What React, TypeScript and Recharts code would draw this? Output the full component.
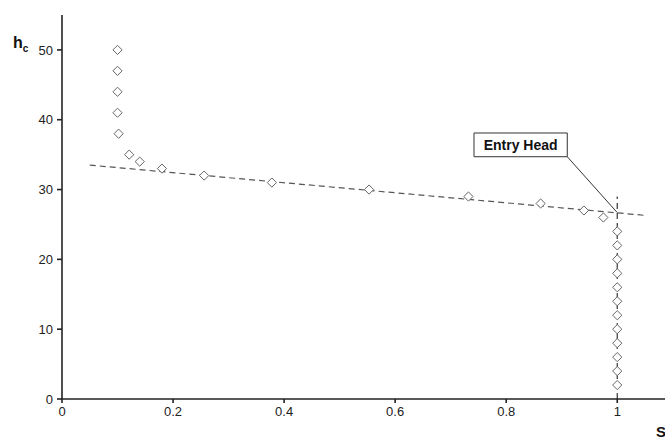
import React from "react";
import {
  ScatterChart,
  Scatter,
  XAxis,
  YAxis,
  ReferenceLine,
  ReferenceArea,
} from "recharts";

// measured capillary head vs saturation
const saturation = [
  0.1, 0.1, 0.1, 0.1, 0.102, 0.121, 0.14, 0.18, 0.256, 0.378, 0.553, 0.732,
  0.862, 0.94, 0.975, 1, 1, 1, 1, 1, 1, 1, 1, 1, 1, 1, 1,
];
const head = [
  50, 47, 44, 41, 38, 35, 34, 33, 32, 31, 30, 29, 28, 27, 26, 24, 22, 20, 18,
  16, 14, 12, 10, 8, 6, 4, 2,
];

// fitted line through the flat part, and the S = 1 line
const trendS = [0.05, 1.05];
const trendH = [33.5, 26.3];
const verticalS = [1, 1];
const verticalH = [0, 29];

// entry head callout
const entryS = 1;
const entryH = 26.7;
const boxS = [0.742, 0.91];
const boxH = [34.7, 38.1];

const xTicks = [0, 0.2, 0.4, 0.6, 0.8, 1];
const yTicks = [0, 10, 20, 30, 40, 50];

const points = saturation.map((s, i) => ({ s, h: head[i] }));

const Diamond = (props: any) => {
  const { cx, cy } = props;
  const r = 4.6;
  return (
    <polygon
      points={`${cx},${cy - r} ${cx + r},${cy} ${cx},${cy + r} ${cx - r},${cy}`}
      fill="#fff"
      stroke="#666"
      strokeWidth={1}
    />
  );
};

const font = "'Liberation Sans', Arial, sans-serif";

export default function App() {
  return (
    <div
      style={{
        position: "absolute",
        left: 0,
        top: 0,
        width: 665,
        height: 440,
        overflow: "hidden",
        background: "#fff",
        fontFamily: font,
      }}
    >
      <ScatterChart
        width={665}
        height={440}
        margin={{ top: 15, right: 0, bottom: 11, left: 0 }}
      >
        <XAxis
          type="number"
          dataKey="s"
          domain={[0, 1.086]}
          ticks={xTicks}
          allowDataOverflow
          height={30}
          tickSize={4}
          tickMargin={4}
          stroke="#222"
          strokeWidth={1.6}
          tick={{ fill: "#222", fontSize: 13, fontFamily: font }}
        />
        <YAxis
          type="number"
          dataKey="h"
          domain={[0, 55]}
          ticks={yTicks}
          width={62}
          tickSize={5}
          tickMargin={4}
          stroke="#222"
          strokeWidth={1.6}
          tick={{ fill: "#222", fontSize: 13, fontFamily: font }}
        />
        <ReferenceLine
          segment={[
            { x: trendS[0], y: trendH[0] },
            { x: trendS[1], y: trendH[1] },
          ]}
          stroke="#555"
          strokeWidth={1.2}
          strokeDasharray="6 4"
        />
        <ReferenceLine
          segment={[
            { x: verticalS[0], y: verticalH[0] },
            { x: verticalS[1], y: verticalH[1] },
          ]}
          stroke="#333"
          strokeWidth={1.2}
          strokeDasharray="6 4"
        />
        <ReferenceLine
          segment={[
            { x: boxS[1], y: boxH[0] },
            { x: entryS, y: entryH },
          ]}
          stroke="#333"
          strokeWidth={1}
        />
        <ReferenceArea
          x1={boxS[0]}
          x2={boxS[1]}
          y1={boxH[0]}
          y2={boxH[1]}
          fill="#fff"
          fillOpacity={1}
          stroke="#333"
          strokeWidth={1}
          label={{
            value: "Entry Head",
            position: "center",
            fill: "#111",
            fontSize: 14,
            fontWeight: "bold",
            fontFamily: font,
          }}
        />
        <Scatter
          data={points}
          shape={Diamond}
          isAnimationActive={false}
        />
      </ScatterChart>
      <div
        style={{
          position: "absolute",
          left: 13,
          top: 34,
          fontSize: 16,
          fontWeight: "bold",
          color: "#111",
        }}
      >
        h<sub style={{ fontSize: 10 }}>c</sub>
      </div>
      <div
        style={{
          position: "absolute",
          left: 656,
          top: 423,
          fontSize: 15,
          fontWeight: "bold",
          color: "#111",
        }}
      >
        S
      </div>
    </div>
  );
}
